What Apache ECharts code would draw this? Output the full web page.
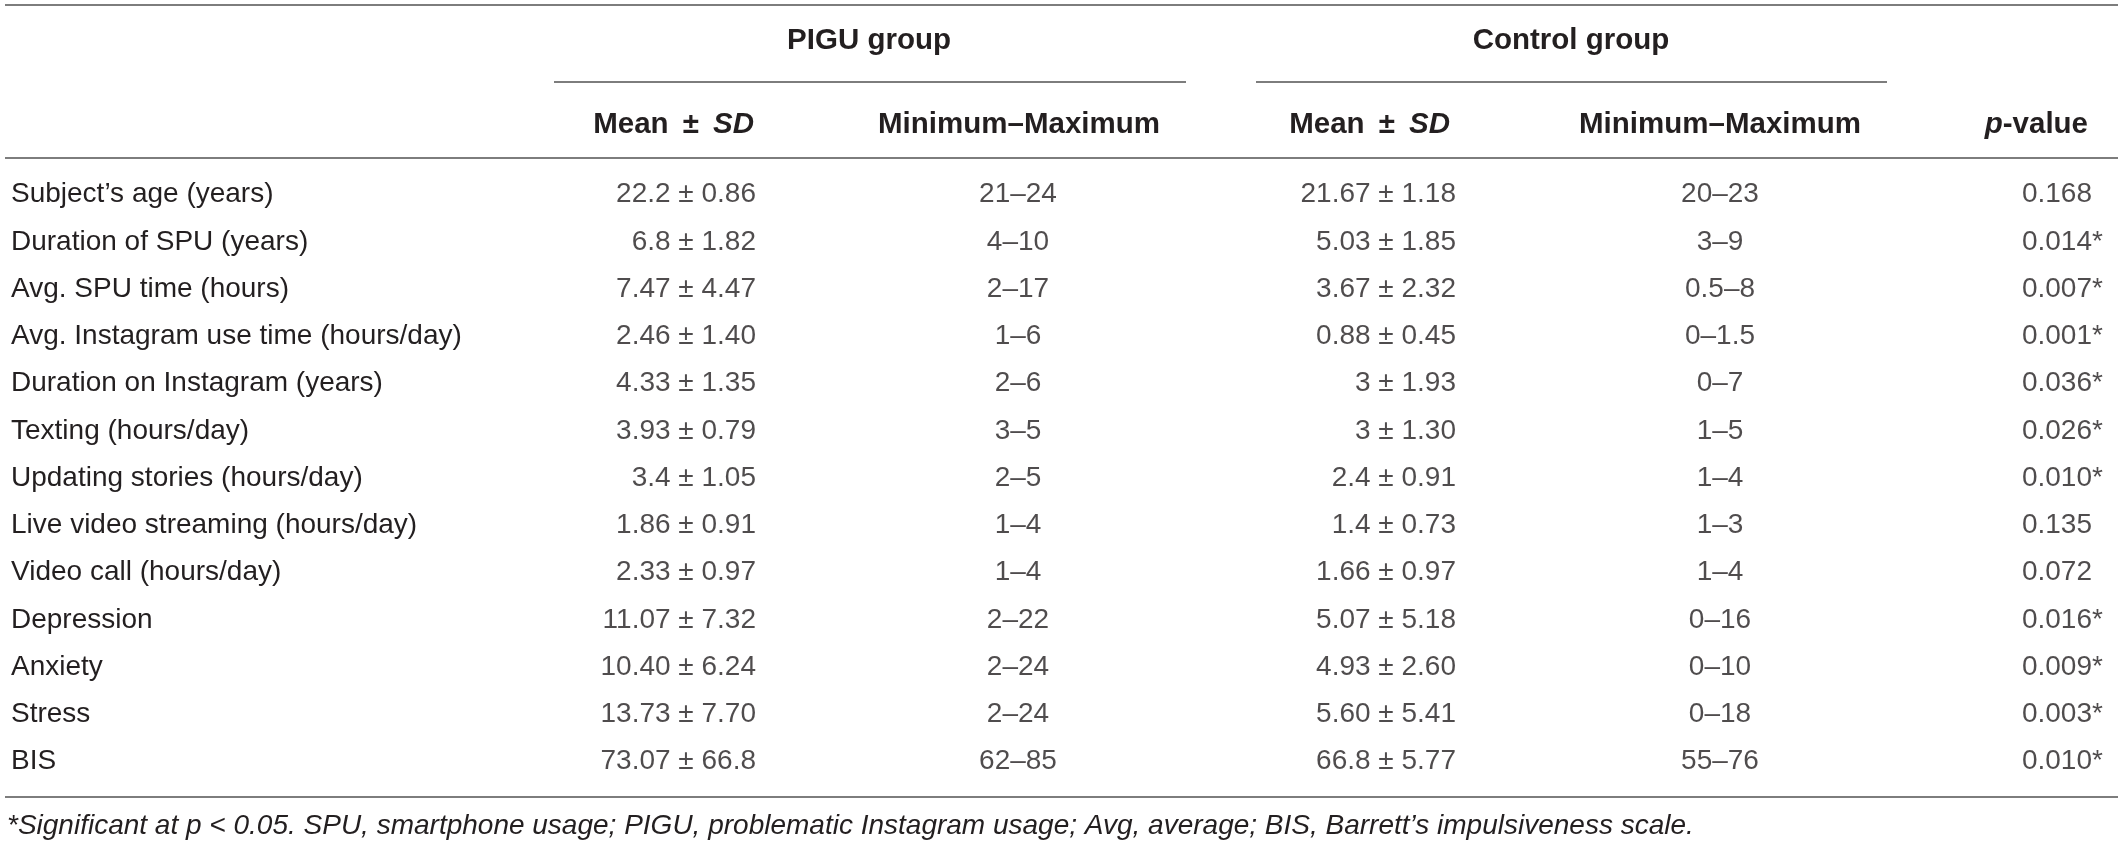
<!DOCTYPE html>
<html>
<head>
<meta charset="utf-8">
<script src="https://cdn.jsdelivr.net/npm/echarts@6/dist/echarts.min.js"></script>
<style>
  html, body { margin: 0; padding: 0; background: #fff; }
  #chart { width: 2118px; height: 846px; }
</style>
</head>
<body>
<div id="chart"></div>
<script>
// table content
const rowLabels = [
  'Subject’s age (years)',
  'Duration of SPU (years)',
  'Avg. SPU time (hours)',
  'Avg. Instagram use time (hours/day)',
  'Duration on Instagram (years)',
  'Texting (hours/day)',
  'Updating stories (hours/day)',
  'Live video streaming (hours/day)',
  'Video call (hours/day)',
  'Depression',
  'Anxiety',
  'Stress',
  'BIS'
];
const piguMean = ['22.2', '6.8', '7.47', '2.46', '4.33', '3.93', '3.4', '1.86', '2.33', '11.07', '10.40', '13.73', '73.07'];
const piguSD = ['0.86', '1.82', '4.47', '1.40', '1.35', '0.79', '1.05', '0.91', '0.97', '7.32', '6.24', '7.70', '66.8'];
const piguMin = ['21', '4', '2', '1', '2', '3', '2', '1', '1', '2', '2', '2', '62'];
const piguMax = ['24', '10', '17', '6', '6', '5', '5', '4', '4', '22', '24', '24', '85'];
const ctrlMean = ['21.67', '5.03', '3.67', '0.88', '3', '3', '2.4', '1.4', '1.66', '5.07', '4.93', '5.60', '66.8'];
const ctrlSD = ['1.18', '1.85', '2.32', '0.45', '1.93', '1.30', '0.91', '0.73', '0.97', '5.18', '2.60', '5.41', '5.77'];
const ctrlMin = ['20', '3', '0.5', '0', '0', '1', '1', '1', '1', '0', '0', '0', '55'];
const ctrlMax = ['23', '9', '8', '1.5', '7', '5', '4', '3', '4', '16', '10', '18', '76'];
const pValues = ['0.168', '0.014', '0.007', '0.001', '0.036', '0.026', '0.010', '0.135', '0.072', '0.016', '0.009', '0.003', '0.010'];
const alpha = 0.05;

const groupHeaders = ['PIGU group', 'Control group'];
const footnote = '*Significant at p < 0.05. SPU, smartphone usage; PIGU, problematic Instagram usage; Avg, average; BIS, Barrett’s impulsiveness scale.';

// layout
const W = 2118;
const FONT = 'Liberation Sans, Arial, sans-serif';
const TXT = '#231f20';
const RULE = '#7d7d7d';
const HDR = 29.5;
const colX = { piguMean: 756, piguRange: 1018, ctrlMean: 1456, ctrlRange: 1720, p: 2092 };

const chart = echarts.init(document.getElementById('chart'));

function cellSeries(name, x, texts, position) {
  return {
    name: name,
    type: 'scatter',
    symbolSize: 0,
    silent: true,
    data: rowLabels.map((r, i) => ({ value: [x, r], txt: texts[i] })),
    label: {
      show: true,
      position: position,
      distance: 0,
      fontFamily: FONT,
      fontSize: 28,
      color: TXT,
      formatter: p => p.data.txt
    }
  };
}

const piguMeanTxt = piguMean.map((m, i) => m + ' ± ' + piguSD[i]);
const piguRangeTxt = piguMin.map((m, i) => m + '–' + piguMax[i]);
const ctrlMeanTxt = ctrlMean.map((m, i) => m + ' ± ' + ctrlSD[i]);
const ctrlRangeTxt = ctrlMin.map((m, i) => m + '–' + ctrlMax[i]);
const starTxt = pValues.map(p => (parseFloat(p) < alpha ? '*' : ''));

const hdrRich = {
  b: { fontFamily: FONT, fontSize: HDR, fontWeight: 'bold', fill: TXT, color: TXT },
  i: { fontFamily: FONT, fontSize: HDR, fontWeight: 'bold', fontStyle: 'italic', fill: TXT, color: TXT }
};

function hdrText(x, y, text, align) {
  return {
    type: 'text',
    x: x, y: y,
    style: {
      text: text,
      rich: hdrRich,
      font: 'bold ' + HDR + 'px ' + FONT,
      fill: TXT,
      align: align,
      verticalAlign: 'middle'
    }
  };
}

function rule(x1, x2, y) {
  return {
    type: 'line',
    shape: { x1: x1, y1: y, x2: x2, y2: y },
    style: { stroke: RULE, lineWidth: 2 }
  };
}

chart.setOption({
  animation: false,
  backgroundColor: '#fff',
  grid: { left: 0, right: 0, top: 171, height: 614.25 },
  xAxis: { type: 'value', min: 0, max: W, show: false },
  yAxis: {
    type: 'category',
    inverse: true,
    data: rowLabels,
    axisLine: { show: false },
    axisTick: { show: false },
    splitLine: { show: false },
    axisLabel: {
      inside: true,
      margin: 11,
      fontFamily: FONT,
      fontSize: 28,
      color: TXT
    }
  },
  series: [
    cellSeries('PIGU mean', colX.piguMean, piguMeanTxt, 'left'),
    cellSeries('PIGU range', colX.piguRange, piguRangeTxt, 'inside'),
    cellSeries('Control mean', colX.ctrlMean, ctrlMeanTxt, 'left'),
    cellSeries('Control range', colX.ctrlRange, ctrlRangeTxt, 'inside'),
    cellSeries('p-value', colX.p, pValues, 'left'),
    cellSeries('significance', colX.p, starTxt, 'right')
  ],
  graphic: [
    rule(5, W, 5),
    rule(554, 1186, 82),
    rule(1256, 1887, 82),
    rule(5, W, 158),
    rule(5, W, 797),
    hdrText(869, 41, '{b|' + groupHeaders[0] + '}', 'center'),
    hdrText(1571, 41, '{b|' + groupHeaders[1] + '}', 'center'),
    hdrText(754, 125, '{b|Mean \u2009±\u2009 }{i|SD}', 'right'),
    hdrText(1019, 125, '{b|Minimum–Maximum}', 'center'),
    hdrText(1450, 125, '{b|Mean \u2009±\u2009 }{i|SD}', 'right'),
    hdrText(1720, 125, '{b|Minimum–Maximum}', 'center'),
    hdrText(2088, 125, '{i|p}{b|-value}', 'right'),
    {
      type: 'text',
      x: 7, y: 826,
      style: {
        text: footnote,
        font: 'italic 28px ' + FONT,
        fill: TXT,
        align: 'left',
        verticalAlign: 'middle'
      }
    }
  ]
});
</script>
</body>
</html>
